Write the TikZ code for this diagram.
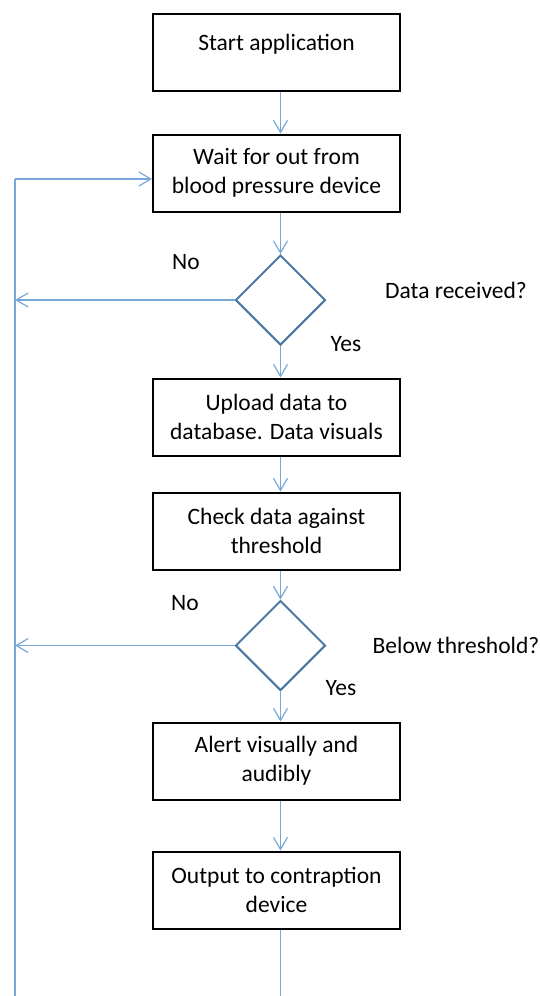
\documentclass[tikz,border=0pt]{standalone}
\usepackage{fontspec}
\setmainfont{Carlito}
\usetikzlibrary{arrows.meta,shapes.geometric}
\definecolor{conn}{HTML}{78A8DA}
\definecolor{dia}{HTML}{4A78A2}
\begin{document}
\begin{tikzpicture}[x=1pt,y=-1pt,
  every node/.style={font=\fontsize{23.5}{29}\selectfont, inner sep=0pt},
  box/.style={draw=black, line width=2pt, minimum width=247pt, minimum height=77pt, align=center},
  decision/.style={diamond, draw=dia, line width=2pt, minimum width=90pt, minimum height=90pt, aspect=1},
  lbl/.style={},
  conline/.style={draw=conn, line width=1.2pt},
  arr/.style={conline, -{Straight Barb[length=12pt,width=14pt,line width=1.2pt]}}
]
\useasboundingbox (0,0) rectangle (540,996);
\coordinate (axis) at (280.5,0);
\coordinate (bottom) at (280.5,996);
\coordinate (loopTop) at (15,179);
\coordinate (loopBottom) at (15,996);

\node[box] (start) at (276.5,52.5) {};
\node (starttxt) at (276.5,44) {Start application};
\node[box] (wait) at (276.5,173) {Wait for out from\\blood pressure device};
\node[decision] (d1) at (280.5,300) {};
\node[box] (upload) at (276.5,417) {Upload data to\\database. Data visuals};
\node[box] (check) at (276.5,531) {Check data against\\threshold};
\node[decision] (d2) at (280.5,645.5) {};
\node[box] (alert) at (276.5,761) {Alert visually and\\audibly};
\node[box] (output) at (276.5,890) {Output to contraption\\device};

\node[lbl] (no1) at (186,262) {No};
\node[lbl] (q1) at (456,290) {Data received?};
\node[lbl] (yes1) at (346,344) {Yes};
\node[lbl] (no2) at (185,603) {No};
\node[lbl] (q2) at (456,645) {Below threshold?};
\node[lbl] (yes2) at (341,688) {Yes};

\draw[arr] (start.south -| axis) -- (wait.north -| axis);
\draw[arr] (wait.south -| axis) -- (d1.north);
\draw[arr] (d1.south) -- (upload.north -| axis);
\draw[arr] (upload.south -| axis) -- (check.north -| axis);
\draw[arr] (check.south -| axis) -- (d2.north);
\draw[arr] (d2.south) -- (alert.north -| axis);
\draw[arr] (alert.south -| axis) -- (output.north -| axis);
\draw[conline] (output.south -| axis) -- (bottom);

\draw[conline] (loopBottom) -- (loopTop);
\draw[arr] (loopTop) -- (loopTop -| wait.west);
\draw[arr] (d1.west) -- (d1.west -| loopTop);
\draw[arr] (d2.west) -- (d2.west -| loopTop);
\end{tikzpicture}
\end{document}
